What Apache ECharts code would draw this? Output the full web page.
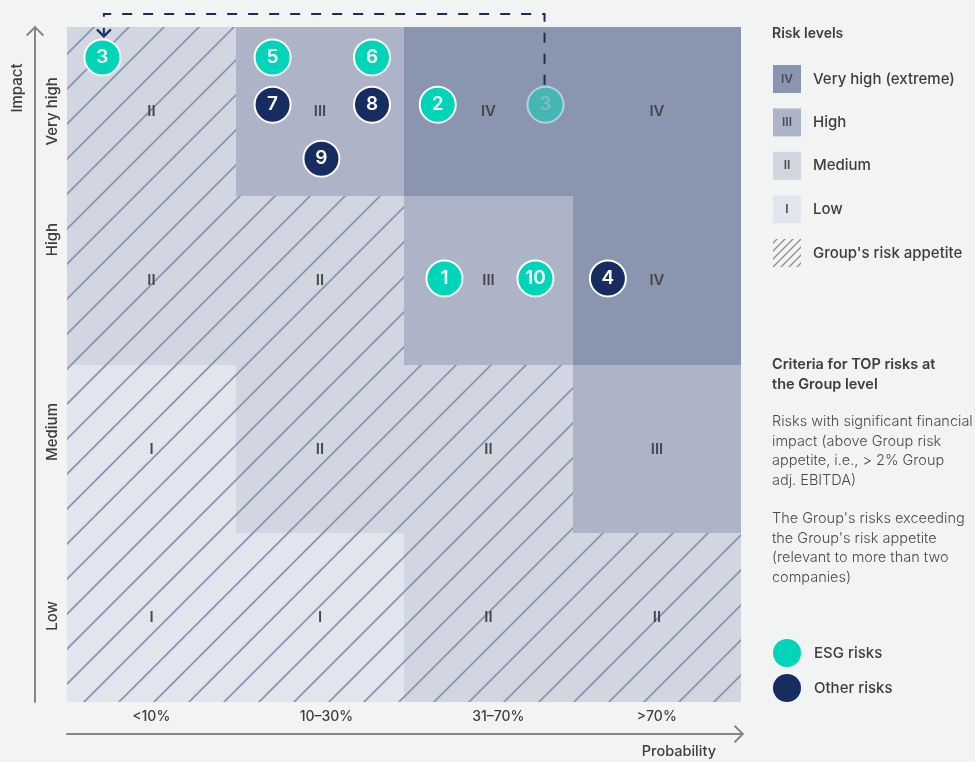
<!DOCTYPE html>
<html>
<head>
<meta charset="utf-8">
<title>Risk matrix</title>
<script src="https://cdn.jsdelivr.net/npm/echarts@6/dist/echarts.min.js"></script>
<style>
  html, body { margin: 0; padding: 0; background: #f2f4f3; }
  #riskMatrix { width: 975px; height: 762px; }
</style>
</head>
<body>
<div id="riskMatrix"></div>
<script>
// axis categories
const probLabels = ['<10%', '10–30%', '31–70%', '>70%'];
const impactLabels = ['Low', 'Medium', 'High', 'Very high'];

// risk level of each cell, rows Low -> Very high, columns by probability
const levelRows = [
  ['I', 'I', 'II', 'II'],
  ['I', 'II', 'II', 'III'],
  ['II', 'II', 'III', 'IV'],
  ['II', 'III', 'IV', 'IV']
];
// 1 = within the Group's risk appetite (hatched)
const appetiteRows = [
  [1, 1, 1, 1],
  [1, 1, 1, 0],
  [1, 1, 0, 0],
  [1, 0, 0, 0]
];

// TOP risks, position in cell units (probability, impact)
const riskIds = [3, 5, 6, 7, 8, 9, 2, 3, 1, 10, 4];
const riskProb = [0.21, 1.22, 1.81, 1.22, 1.81, 1.51, 2.2, 2.84, 2.24, 2.78, 3.21];
const riskImpact = [3.82, 3.82, 3.82, 3.54, 3.54, 3.22, 3.54, 3.54, 2.51, 2.51, 2.51];
const riskType = ['ESG', 'ESG', 'ESG', 'Other', 'Other', 'Other', 'ESG', 'ESG', 'ESG', 'ESG', 'Other'];
// risk 3 moved from its previous spot (index 7) to index 0
const movedFrom = 7;
const movedTo = 0;

// legend
const levelNames = ['IV', 'III', 'II', 'I'];
const levelText = ['Very high (extreme)', 'High', 'Medium', 'Low'];

const FONT = 'Inter, "Noto Sans", sans-serif';
const levelColor = { IV: '#8a96b0', III: '#aeb4c8', II: '#d2d6e1', I: '#e2e5ed' };
const ESG_COLOR = '#00d4b9';
const OTHER_COLOR = '#172c5f';
const TEXT = '#3d3d3d';

function hatch(step, phase, color, width) {
  const c = document.createElement('canvas');
  c.width = step;
  c.height = step;
  const ctx = c.getContext('2d');
  ctx.strokeStyle = color;
  ctx.lineWidth = width;
  for (let k = -1; k <= 2; k++) {
    const s = phase + k * step; // line x + y = s
    ctx.beginPath();
    ctx.moveTo(-5, s + 5);
    ctx.lineTo(step + 5, s - step - 5);
    ctx.stroke();
  }
  return c;
}
const cellHatch = hatch(35, 16, '#8793ae', 1.7);
const keyHatch = hatch(8, 0, '#8e8e8e', 1.3);

const cells = [];
levelRows.forEach((row, r) => row.forEach((lv, c) => cells.push([c, r, lv, appetiteRows[r][c]])));

function riskPoints(type) {
  const out = [];
  riskIds.forEach((id, i) => {
    if (riskType[i] !== type) return;
    const item = { value: [riskProb[i], riskImpact[i], id] };
    if (i === movedFrom) {
      item.itemStyle = { opacity: 0.5 };
      item.label = { color: '#bcc3d0' };
    }
    out.push(item);
  });
  return out;
}

const ARROW = 'path://M0,9 L9,0 L18,9 L16.6,10.4 L9,2.8 L1.4,10.4 Z';

// legend for risk levels
const keyItems = [{
  type: 'text', x: 772, y: 34,
  style: { text: 'Risk levels', fill: TEXT, font: '600 14px ' + FONT, verticalAlign: 'middle' }
}];
levelNames.forEach((lv, i) => {
  const y = 65 + i * 43.4;
  keyItems.push({ type: 'rect', shape: { x: 773, y: y, width: 28, height: 28 }, style: { fill: levelColor[lv] } });
  keyItems.push({ type: 'text', x: 787, y: y + 14, style: { text: lv, fill: '#4a4a4a', font: '600 12px ' + FONT, align: 'center', verticalAlign: 'middle' } });
  keyItems.push({ type: 'text', x: 813, y: y + 14, style: { text: levelText[i], fill: TEXT, font: '500 15px ' + FONT, verticalAlign: 'middle' } });
});
keyItems.push({ type: 'rect', shape: { x: 773, y: 239, width: 28, height: 28 }, style: { fill: { image: keyHatch, repeat: 'repeat' } } });
keyItems.push({ type: 'text', x: 813, y: 253, style: { text: "Group's risk appetite", fill: TEXT, font: '500 15px ' + FONT, verticalAlign: 'middle' } });
keyItems.push({
  type: 'text', x: 772, y: 355,
  style: { text: 'Criteria for TOP risks at\nthe Group level', fill: TEXT, font: '600 14.5px ' + FONT, lineHeight: 19.5 }
});
keyItems.push({
  type: 'text', x: 772, y: 412,
  style: { text: 'Risks with significant financial\nimpact (above Group risk\nappetite, i.e., > 2% Group\nadj. EBITDA)', fill: '#4a4a4a', font: '300 14.5px ' + FONT, lineHeight: 19.6 }
});
keyItems.push({
  type: 'text', x: 772, y: 509,
  style: { text: "The Group's risks exceeding\nthe Group's risk appetite\n(relevant to more than two\ncompanies)", fill: '#4a4a4a', font: '300 14.5px ' + FONT, lineHeight: 19.6 }
});

function labelAt(list, names) {
  return function (v) {
    const i = list.findIndex(p => Math.abs(p - v) < 1e-6);
    return i < 0 ? '' : names[i];
  };
}
const probLabelAt = [0.5, 1.54, 2.56, 3.5];
const impactLabelAt = [0.51, 1.6, 2.74, 3.5];

let chart = echarts.init(document.getElementById('riskMatrix'));
chart.setOption({
  backgroundColor: '#f2f4f3',
  animation: false,
  textStyle: { fontFamily: FONT },
  grid: { left: 67, top: 27, width: 674, height: 675, outerBoundsMode: 'none' },
  legend: {
    data: ['ESG risks', 'Other risks'],
    orient: 'vertical',
    left: 773,
    top: 639,
    padding: 0,
    itemWidth: 28,
    itemHeight: 28,
    itemGap: 7,
    icon: 'circle',
    selectedMode: false,
    itemStyle: { borderWidth: 0 },
    textStyle: { fontSize: 15, fontWeight: 500, color: TEXT, fontFamily: FONT, padding: [0, 0, 0, 8] }
  },
  xAxis: {
    type: 'value', min: 0, max: 4, offset: 32,
    axisLine: { show: true, onZero: false, lineStyle: { color: '#858585', width: 2 }, symbol: ['none', ARROW], symbolSize: [18, 10.4], symbolOffset: [0, -2] },
    axisTick: { show: false },
    splitLine: { show: false },
    axisLabel: {
      inside: true, margin: 10, customValues: probLabelAt,
      formatter: labelAt(probLabelAt, probLabels),
      color: TEXT, fontSize: 14, fontWeight: 500, fontFamily: FONT
    },
    name: 'Probability', nameLocation: 'end', nameGap: -25,
    nameTextStyle: { align: 'right', verticalAlign: 'top', padding: [10, 0, 0, 0], color: TEXT, fontSize: 14.5, fontWeight: 500, fontFamily: FONT }
  },
  yAxis: {
    type: 'value', min: 0, max: 4, offset: 32,
    axisLine: { show: true, onZero: false, lineStyle: { color: '#858585', width: 2 }, symbol: ['none', ARROW], symbolSize: [18, 10.4], symbolOffset: [0, -4] },
    axisTick: { show: false },
    splitLine: { show: false },
    axisLabel: {
      inside: true, margin: 10, rotate: 90, customValues: impactLabelAt,
      formatter: labelAt(impactLabelAt, impactLabels),
      color: TEXT, fontSize: 15, fontWeight: 500, fontFamily: FONT
    },
    name: 'Impact', nameLocation: 'end', nameGap: -61, nameRotate: 90,
    nameTextStyle: { align: 'center', verticalAlign: 'bottom', padding: [0, 0, 10, 0], color: TEXT, fontSize: 15, fontWeight: 500, fontFamily: FONT }
  },
  graphic: { elements: keyItems },
  series: [
    {
      type: 'custom',
      name: 'cells',
      z: 1,
      silent: true,
      data: cells.map(d => [d[0] + 0.5, d[1] + 0.5]),
      renderItem: function (params, api) {
        const cell = cells[params.dataIndex];
        const lt = api.coord([cell[0], cell[1] + 1]).map(Math.round);
        const rb = api.coord([cell[0] + 1, cell[1]]).map(Math.round);
        const shape = { x: lt[0], y: lt[1], width: rb[0] - lt[0], height: rb[1] - lt[1] };
        const children = [{ type: 'rect', shape: shape, style: { fill: levelColor[cell[2]] } }];
        if (cell[3]) {
          children.push({ type: 'rect', shape: shape, style: { fill: { image: cellHatch, repeat: 'repeat' } } });
        }
        children.push({
          type: 'text', x: (lt[0] + rb[0]) / 2, y: (lt[1] + rb[1]) / 2,
          style: { text: cell[2], fill: '#464646', font: '600 15px ' + FONT, align: 'center', verticalAlign: 'middle' }
        });
        return { type: 'group', children: children };
      }
    },
    {
      type: 'custom',
      name: 'moved',
      z: 4,
      silent: true,
      clip: false,
      data: [[riskProb[movedFrom], riskImpact[movedFrom], riskProb[movedTo], riskImpact[movedTo]]],
      renderItem: function (params, api) {
        const from = api.coord([api.value(0), api.value(1)]);
        const to = api.coord([api.value(2), api.value(3)]);
        const top = params.coordSys.y - 13;
        const tx = to[0] + 1.5;
        const tipY = to[1] - 21;
        return {
          type: 'group',
          children: [
            {
              type: 'polyline',
              shape: { points: [[from[0] - 1, from[1] - 20], [from[0] - 1, top], [tx, top], [tx, tipY - 2]] },
              style: { stroke: '#1b2d5e', lineWidth: 2, lineDash: [10, 11], fill: null }
            },
            {
              type: 'polyline',
              shape: { points: [[tx - 7, tipY - 7], [tx, tipY], [tx + 7, tipY - 7]] },
              style: { stroke: '#1b2d5e', lineWidth: 2.2, fill: null }
            }
          ]
        };
      }
    },
    {
      type: 'scatter',
      name: 'ESG risks',
      z: 5,
      symbolSize: 36,
      itemStyle: { color: ESG_COLOR, borderColor: '#fff', borderWidth: 2, opacity: 1 },
      label: { show: true, position: 'inside', formatter: p => p.value[2], color: '#fff', fontSize: 19, fontWeight: 600, fontFamily: FONT },
      data: riskPoints('ESG')
    },
    {
      type: 'scatter',
      name: 'Other risks',
      z: 5,
      symbolSize: 36,
      itemStyle: { color: OTHER_COLOR, borderColor: '#fff', borderWidth: 2, opacity: 1 },
      label: { show: true, position: 'inside', formatter: p => p.value[2], color: '#fff', fontSize: 19, fontWeight: 600, fontFamily: FONT },
      data: riskPoints('Other')
    }
  ]
});
</script>
</body>
</html>
